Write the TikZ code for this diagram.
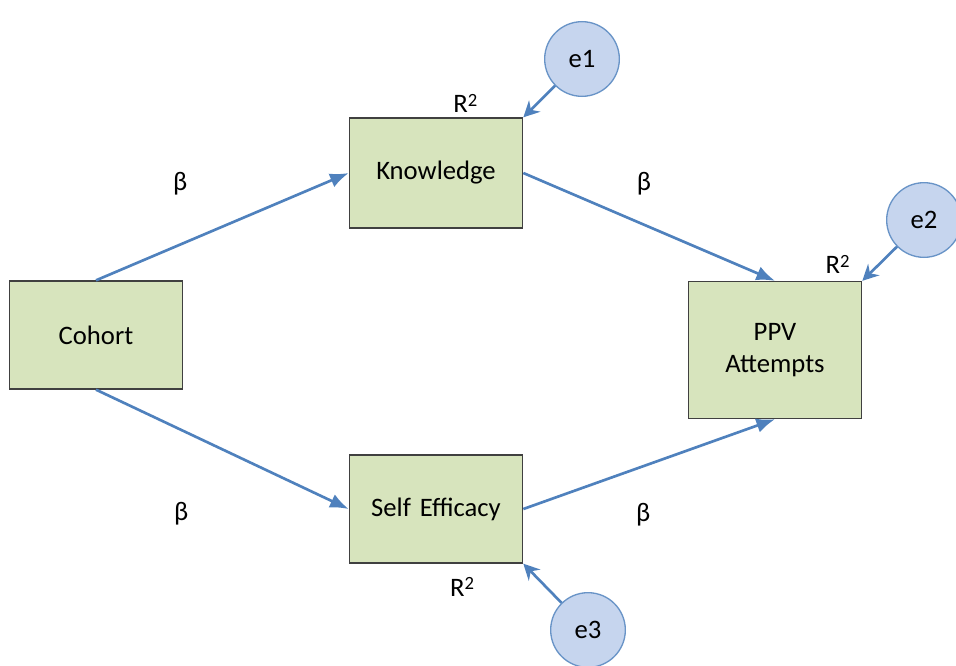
\documentclass[tikz,border=0pt]{standalone}
\usepackage{fontspec}
\setmainfont{Carlito}
\usepackage{tikz}
\usetikzlibrary{shapes,arrows,arrows.meta,positioning}
\definecolor{boxgreen}{HTML}{D7E4BD}
\definecolor{errblue}{HTML}{C6D5EE}
\definecolor{pathblue}{HTML}{4F81BD}
\newcommand{\rsq}{R\raisebox{0.5ex}{\fontsize{14pt}{14pt}\selectfont 2}}
\tikzstyle{block} = [rectangle, draw=black!75, line width=1pt, fill=boxgreen, text width=120pt, align=center, minimum width=130pt, minimum height=81pt, font=\fontsize{20pt}{24.5pt}\selectfont]
\tikzstyle{error} = [circle, draw=pathblue!85, line width=1pt, fill=errblue, minimum size=56pt, inner sep=0pt, font=\fontsize{20pt}{24.5pt}\selectfont]
\tikzstyle{line} = [draw, pathblue, line width=2pt, -{Latex[length=14pt,width=11pt]}]
\tikzstyle{errline} = [draw, pathblue, line width=2pt, -{Stealth[length=12pt,width=12pt,inset=4pt]}]
\tikzstyle{coef} = [black, font=\fontsize{20pt}{24.5pt}\selectfont]

\begin{document}
\begin{tikzpicture}[on grid, auto]
    % Place nodes
    \node [block] (cohort) {Cohort};
    \useasboundingbox ([shift={(-72pt,-247.5pt)}]cohort.center) rectangle ([shift={(645pt,251.25pt)}]cohort.center);
    \node [block, minimum height=82.5pt, above right=121.5pt and 255pt of cohort, label={[coef, xshift=22pt]above:\rsq}] (knowledge) {Knowledge};
    \node [block, below right=130.5pt and 255pt of cohort, label={[coef, xshift=19.5pt, yshift=-7pt]below:\rsq}] (selfeff) {Self Efficacy};
    \node [block, minimum height=102.75pt, below right=132.75pt and 254.25pt of knowledge, label={[coef, xshift=47pt, yshift=2pt]above:\rsq}] (ppv) {PPV\\Attempts};
    \node [error, above right=85.5pt and 109.5pt of knowledge] (e1) {e1};
    \node [error, above right=97.5pt and 111.75pt of ppv] (e2) {e2};
    \node [error, below right=90.75pt and 114pt of selfeff] (e3) {e3};
    % Draw edges
    \path [line] (cohort.north) -- (knowledge.west) node[coef, midway, xshift=-22pt, yshift=19.5pt] {β};
    \path [line] (knowledge.east) -- (ppv.north) node[coef, midway, xshift=-13.5pt, yshift=19.5pt] {β};
    \path [line] (cohort.south) -- (selfeff.west) node[coef, midway, xshift=-40.5pt, yshift=-61.25pt] {β};
    \path [line] (selfeff.east) -- (ppv.south) node[coef, midway, xshift=5.25pt, yshift=-50.75pt] {β};
    \path [errline] (e1) -- (knowledge.north east);
    \path [errline] (e2) -- (ppv.north east);
    \path [errline] (e3) -- (selfeff.south east);
\end{tikzpicture}
\end{document}
